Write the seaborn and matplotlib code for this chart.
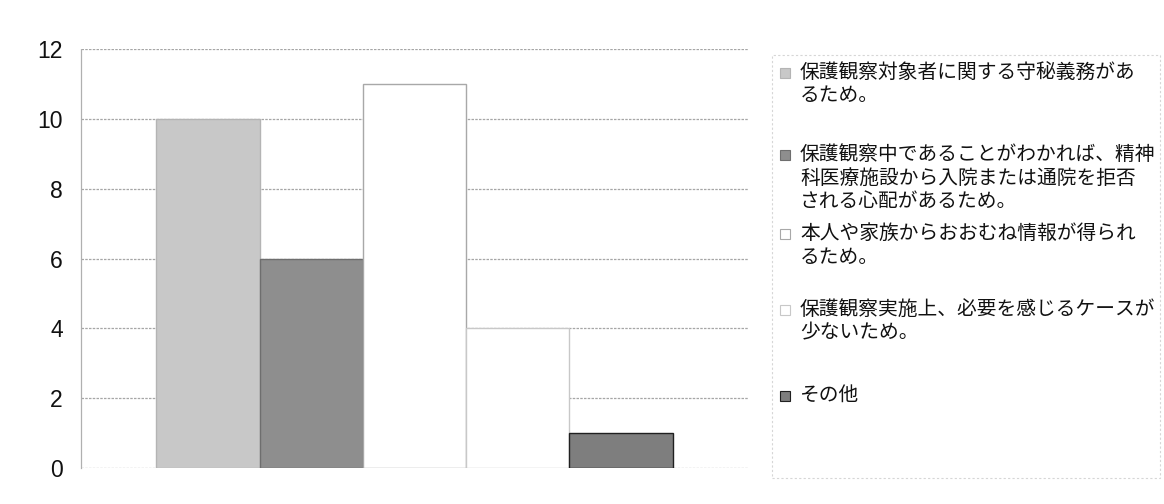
import matplotlib
matplotlib.use("Agg")
import matplotlib.pyplot as plt
from matplotlib.patches import Rectangle
import seaborn as sns
import pandas as pd

# Reasons (legend text, wrapped as displayed) and number of responses
reasons = [
    "保護観察対象者に関する守秘義務があ\nるため。",
    "保護観察中であることがわかれば、精神\n科医療施設から入院または通院を拒否\nされる心配があるため。",
    "本人や家族からおおむね情報が得られ\nるため。",
    "保護観察実施上、必要を感じるケースが\n少ないため。",
    "その他",
]
counts = [10, 6, 11, 4, 1]
y_ticks = [0, 2, 4, 6, 8, 10, 12]

fill_colors = ["#c8c8c8", "#8e8e8e", "#ffffff", "#ffffff", "#7e7e7e"]
edge_colors = ["#b4b4b4", "#6e6e6e", "#a8a8a8", "#c8c8c8", "#202020"]

sns.set_theme(style="white")
plt.rcParams["font.family"] = ["Liberation Sans", "Noto Sans CJK JP", "DejaVu Sans"]

W, H = 1164, 504
fig = plt.figure(figsize=(W / 100, H / 100), dpi=100)
ax = fig.add_axes([81 / W, 1 - 468 / H, 667 / W, (468 - 49) / H])

df = pd.DataFrame({"group": [""] * len(counts), "reason": reasons, "count": counts})
sns.barplot(
    data=df, x="group", y="count", hue="reason", hue_order=reasons,
    palette=fill_colors, saturation=1, width=0.774, legend=False, ax=ax,
    zorder=3,
)
for cont, ec in zip(ax.containers, edge_colors):
    for bar in cont:
        bar.set_edgecolor(ec)
        bar.set_linewidth(1.0)

ax.set_ylim(0, 12)
ax.set_yticks(y_ticks)
ax.set_xticks([])
ax.set_xlabel("")
ax.set_ylabel("")
ax.tick_params(axis="y", length=0, pad=13, labelsize=16.5, labelcolor="#111111")

ax.yaxis.grid(True, color="#a6a6a6", linewidth=0.9, linestyle=(0, (2, 1)), zorder=1)
ax.set_axisbelow(True)
for side in ["top", "right", "bottom"]:
    ax.spines[side].set_visible(False)
ax.spines["left"].set_color("#b0b0b0")
ax.spines["left"].set_linestyle((0, (2, 1)))
ax.spines["left"].set_linewidth(0.9)

# Legend: square swatch aligned with the first line of each label
line1_centers = [73, 155, 234, 310, 396]
for lab, fc, ec, yc in zip(reasons, fill_colors, edge_colors, line1_centers):
    fig.add_artist(Rectangle((780 / W, 1 - (yc + 5) / H), 10 / W, 10 / H,
                             transform=fig.transFigure, facecolor=fc,
                             edgecolor=ec, linewidth=0.8))
    fig.text(800 / W, 1 - (yc - 10) / H, lab, fontsize=14.2, va="top",
             ha="left", color="#111111", linespacing=1.3)

# Faint legend frame
fig.add_artist(Rectangle((772 / W, 1 - 478 / H), (1160 - 772) / W, (478 - 55) / H,
                         transform=fig.transFigure, facecolor="none",
                         edgecolor="#d6d6d6", linewidth=0.8, linestyle=(0, (2, 2))))

fig.savefig("out.png", dpi=100)
